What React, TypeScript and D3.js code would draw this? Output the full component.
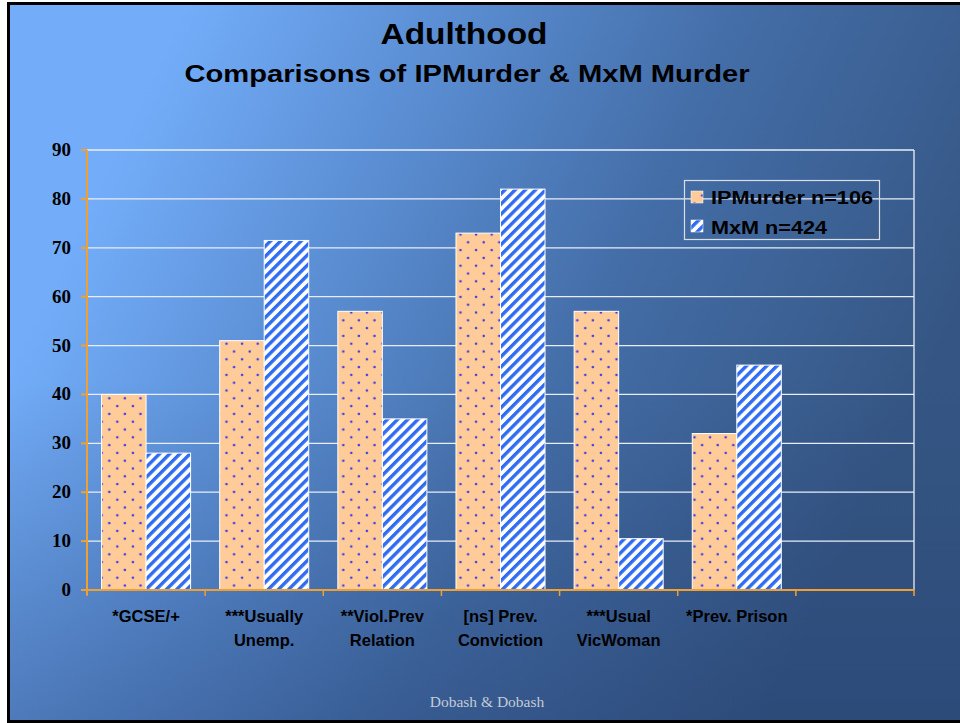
import * as d3 from "d3";

const categories = ["*GCSE/+", "***Usually", "**Viol.Prev", "[ns] Prev.", "***Usual", "*Prev. Prison", ""];
const categoriesLine2 = ["", "Unemp.", "Relation", "Conviction", "VicWoman", "", ""];
const ipMurder = [40, 51, 57, 73, 57, 32];
const mxmMurder = [28, 71.5, 35, 82, 10.5, 46];
const yTicks = [0, 10, 20, 30, 40, 50, 60, 70, 80, 90];
const seriesNames = ["IPMurder n=106", "MxM n=424"];

const W = 960;
const H = 723;
const plot = { left: 87, right: 914, top: 150, bottom: 590 };

const App = () => {
  const keys = categories.map((c, i) => c + i);
  const x0 = d3.scaleBand().domain(keys).range([plot.left, plot.right]);
  const x1 = d3
    .scaleBand()
    .domain(["ip", "mxm"])
    .range([0, x0.bandwidth()])
    .paddingInner(0)
    .paddingOuter(0.327);
  const y = d3.scaleLinear().domain([0, 90]).range([plot.bottom, plot.top]);
  const axisColor = "#f0a030";

  return (
    <svg
      width={W}
      height={H}
      style={{ position: "fixed", left: 0, top: 0, fontFamily: "'Liberation Sans', Arial, sans-serif" }}
    >
      <defs>
        <linearGradient id="bg" gradientUnits="userSpaceOnUse" x1={110} y1={160} x2={860} y2={520}>
          <stop offset="0" stopColor="#73adf9" />
          <stop offset="0.3" stopColor="#5a8dd2" />
          <stop offset="0.6" stopColor="#446ea8" />
          <stop offset="1" stopColor="#355684" />
        </linearGradient>
        <linearGradient id="shade" gradientUnits="userSpaceOnUse" x1={0} y1={380} x2={0} y2={723}>
          <stop offset="0" stopColor="#1a3060" stopOpacity={0} />
          <stop offset="1" stopColor="#1a3060" stopOpacity={0.3} />
        </linearGradient>
        <pattern id="dots" patternUnits="userSpaceOnUse" width={15.6} height={15.6} x={101.7} y={390.5}>
          <rect width={15.6} height={15.6} fill="#ffcc99" />
          <circle cx={7.6} cy={7.8} r={1.3} fill="#3b3be8" />
          <circle cx={0} cy={0} r={1.3} fill="#3b3be8" />
          <circle cx={15.6} cy={0} r={1.3} fill="#3b3be8" />
          <circle cx={0} cy={15.6} r={1.3} fill="#3b3be8" />
          <circle cx={15.6} cy={15.6} r={1.3} fill="#3b3be8" />
        </pattern>
        <pattern id="stripes" patternUnits="userSpaceOnUse" width={7.2} height={7.2} patternTransform="rotate(45)">
          <rect width={7.2} height={7.2} fill="#ffffff" />
          <rect width={3.4} height={7.2} fill="#2f6cf2" />
        </pattern>
      </defs>

      <rect x={0} y={0} width={W} height={H} fill="#ffffff" />
      <rect x={8} y={3} width={W - 8} height={H - 6} fill="url(#bg)" />
      <rect x={8} y={3} width={W - 8} height={H - 6} fill="url(#shade)" />
      <rect x={8.5} y={3.5} width={W} height={H - 5} fill="none" stroke="#000" strokeWidth={3} />

      <text x={464} y={44} textAnchor="middle" fontSize={29} fontWeight="bold" textLength={167} lengthAdjust="spacingAndGlyphs">
        Adulthood
      </text>
      <text x={467} y={82} textAnchor="middle" fontSize={24} fontWeight="bold" textLength={565} lengthAdjust="spacingAndGlyphs">
        Comparisons of IPMurder &amp; MxM Murder
      </text>

      {/* grid */}
      {yTicks.map((t) => (
        <line key={t} x1={plot.left} x2={plot.right} y1={y(t)} y2={y(t)} stroke="#e8eef8" strokeWidth={1.3} />
      ))}
      <line x1={plot.right} x2={plot.right} y1={plot.top} y2={plot.bottom} stroke="#e8eef8" strokeWidth={1.3} />

      {/* bars */}
      {ipMurder.map((v, i) => (
        <rect
          key={"ip" + i}
          x={x0(keys[i])! + x1("ip")!}
          y={y(v)}
          width={x1.bandwidth()}
          height={y(0) - y(v)}
          fill="url(#dots)"
          stroke="#ffffff"
          strokeWidth={1}
        />
      ))}
      {mxmMurder.map((v, i) => (
        <rect
          key={"mx" + i}
          x={x0(keys[i])! + x1("mxm")!}
          y={y(v)}
          width={x1.bandwidth()}
          height={y(0) - y(v)}
          fill="url(#stripes)"
          stroke="#ffffff"
          strokeWidth={1}
        />
      ))}

      {/* axes */}
      <line x1={plot.left} x2={plot.left} y1={plot.top} y2={plot.bottom + 5} stroke={axisColor} strokeWidth={2} />
      <line x1={plot.left} x2={plot.right} y1={plot.bottom} y2={plot.bottom} stroke={axisColor} strokeWidth={2} />
      {yTicks.map((t) => (
        <g key={"yt" + t}>
          <line x1={plot.left - 6} x2={plot.left} y1={y(t)} y2={y(t)} stroke={axisColor} strokeWidth={2} />
          <text
            x={71}
            y={y(t) + 6}
            textAnchor="end"
            fontFamily="'Liberation Serif', 'Times New Roman', serif"
            fontWeight="bold"
            fontSize={19}
            fill="#000"
          >
            {t}
          </text>
        </g>
      ))}
      {keys.concat(["end"]).map((k, i) => {
        const xx = i < keys.length ? x0(k)! : plot.right;
        return <line key={"xt" + i} x1={xx} x2={xx} y1={plot.bottom} y2={plot.bottom + 6} stroke={axisColor} strokeWidth={1.5} />;
      })}
      {keys.map((k, i) => {
        const cx = x0(k)! + x0.bandwidth() / 2;
        return (
          <g key={"xl" + i} fontWeight="bold" fontSize={16.5} fill="#000" textAnchor="middle">
            <text x={cx} y={622}>{categories[i]}</text>
            <text x={cx} y={646}>{categoriesLine2[i]}</text>
          </g>
        );
      })}

      {/* legend */}
      <rect x={684.5} y={180.5} width={195} height={59} fill="none" stroke="#d8dde6" strokeWidth={1.2} />
      <rect x={691} y={191} width={12} height={12} fill="url(#dots)" stroke="#fff" strokeWidth={0.5} />
      <rect x={691} y={220} width={12} height={12} fill="url(#stripes)" stroke="#fff" strokeWidth={0.5} />
      <text x={711} y={204} fontWeight="bold" fontSize={19} textLength={162} lengthAdjust="spacingAndGlyphs">
        {seriesNames[0]}
      </text>
      <text x={711} y={234} fontWeight="bold" fontSize={19} textLength={116} lengthAdjust="spacingAndGlyphs">
        {seriesNames[1]}
      </text>

      <text
        x={487}
        y={707}
        textAnchor="middle"
        fontFamily="'Liberation Serif', 'Times New Roman', serif"
        fontSize={15.5}
        fill="#c3cad6"
      >
        Dobash &amp; Dobash
      </text>
    </svg>
  );
};

export default App;
